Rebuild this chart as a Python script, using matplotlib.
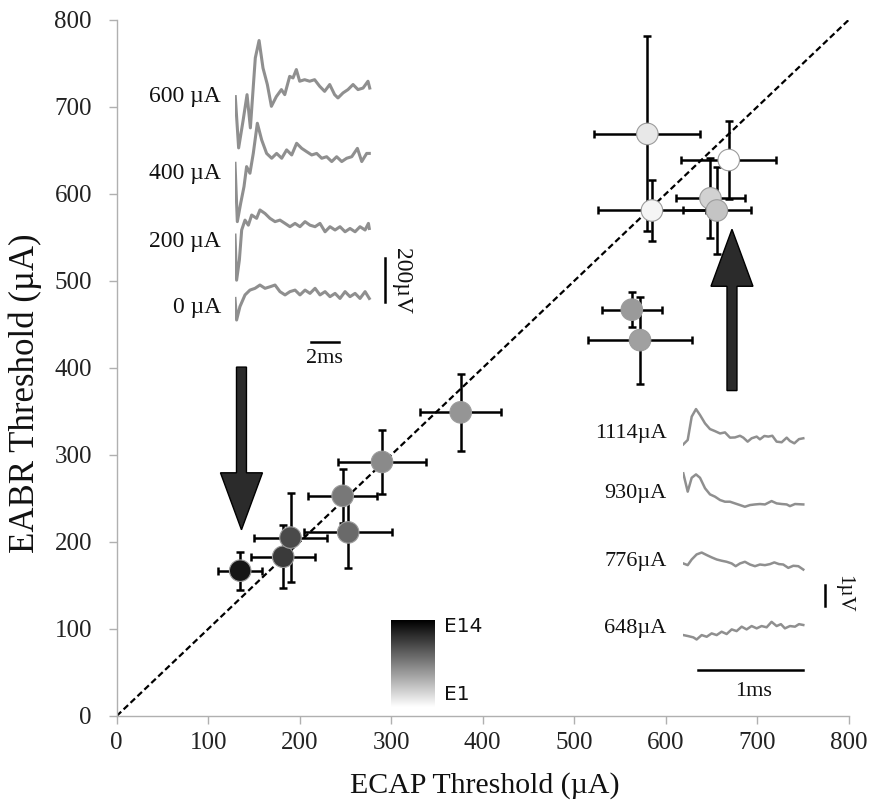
import matplotlib
matplotlib.use("Agg")
import matplotlib.pyplot as plt
from matplotlib.patches import FancyArrow
import numpy as np

# ---------------- data ----------------
ecap = [135, 182, 190, 253, 247, 290, 376, 580, 585, 669, 649, 656, 563, 572]
eabr = [167, 183, 205, 211, 253, 292, 349, 669, 581, 639, 595, 581, 467, 432]
ecap_err = [24, 35, 40, 48, 38, 48, 44, 58, 59, 52, 38, 37, 33, 57]
eabr_err = [22, 36, 51, 41, 31, 37, 44, 112, 35, 45, 46, 50, 20, 50]
point_colors = ['#151515', '#3a3a3a', '#4a4a4a', '#6a6a6a', '#787878', '#8a8a8a',
                '#959595', '#e8e8e8', '#f5f5f5', '#ffffff', '#d2d2d2', '#c4c4c4',
                '#9a9a9a', '#a0a0a0']
axis_range = [0, 800]
ticks = [0, 100, 200, 300, 400, 500, 600, 700, 800]

# EABR waveforms (ms, uV)
eabr_labels = ['600 µA', '400 µA', '200 µA', '0 µA']
eabr_t = [
    [0.02, 0.25, 0.55, 0.83, 1.06, 1.40, 1.66, 1.93, 2.23, 2.51, 2.85, 3.20, 3.43, 3.77, 4.00, 4.23,
     4.46, 4.80, 5.15, 5.49, 5.84, 6.18, 6.53, 6.87, 7.10, 7.45, 7.79, 8.14, 8.48, 8.83, 9.17, 9.29],
    [0.00, 0.16, 0.39, 0.62, 0.80, 1.03, 1.26, 1.54, 1.84, 2.18, 2.53, 2.87, 3.22, 3.56, 3.91, 4.25,
     4.60, 4.94, 5.29, 5.63, 5.98, 6.32, 6.67, 7.01, 7.36, 7.70, 8.05, 8.44, 8.74, 9.08, 9.26],
    [0.00, 0.11, 0.30, 0.46, 0.69, 0.92, 1.15, 1.49, 1.72, 2.07, 2.41, 2.76, 3.10, 3.45, 3.79, 4.14,
     4.48, 4.83, 5.17, 5.52, 5.86, 6.21, 6.55, 6.90, 7.24, 7.59, 7.93, 8.28, 8.62, 8.97, 9.20, 9.26],
    [0.00, 0.11, 0.34, 0.69, 1.03, 1.38, 1.72, 2.07, 2.41, 2.76, 3.10, 3.45, 3.79, 4.14, 4.48, 4.83,
     5.17, 5.52, 5.86, 6.21, 6.55, 6.90, 7.24, 7.59, 7.93, 8.28, 8.62, 8.97, 9.26],
]
eabr_v = [
    [0, -233, -112, 9, -142, 176, 255, 130, 55, -44, 0, 32, 9, 92, 85, 123,
     70, 77, 70, 77, 47, 24, 55, 9, -6, 17, 32, 55, 32, 39, 70, 39],
    [0, -265, -182, -106, -15, -45, 45, 182, 106, 45, 23, 45, 23, 61, 38, 91,
     68, 53, 38, 45, 23, 30, 8, 30, 8, 23, 30, 68, 8, 45, 45],
    [0, -205, -114, 23, 68, 45, 91, 76, 114, 98, 76, 61, 68, 53, 38, 53,
     38, 61, 45, 38, 53, 15, 38, 23, 38, 15, 30, 15, 38, 23, 53, 30],
    [-8, -106, -45, 8, 30, 38, 53, 38, 45, 53, 23, 8, 23, 30, 8, 30,
     15, 38, 8, 23, 0, 15, -8, 23, 0, 15, -8, 23, -8],
]

# ECAP waveforms (ms, uV)
ecap_labels = ['1114µA', '930µA', '776µA', '648µA']
ecap_t = [
    [0.000, 0.042, 0.080, 0.121, 0.159, 0.207, 0.254, 0.302, 0.350, 0.397, 0.445, 0.492, 0.540, 0.572,
     0.613, 0.651, 0.699, 0.730, 0.772, 0.810, 0.848, 0.889, 0.937, 0.985, 1.016, 1.058, 1.102, 1.143],
    [0.000, 0.042, 0.080, 0.121, 0.159, 0.207, 0.254, 0.302, 0.350, 0.397, 0.445, 0.492, 0.540, 0.587,
     0.635, 0.683, 0.730, 0.778, 0.841, 0.889, 0.937, 0.985, 1.016, 1.064, 1.143],
    [0.000, 0.042, 0.080, 0.127, 0.175, 0.223, 0.270, 0.318, 0.365, 0.413, 0.461, 0.499, 0.540, 0.587,
     0.635, 0.683, 0.730, 0.778, 0.826, 0.867, 0.911, 0.952, 1.000, 1.048, 1.096, 1.143],
    [0.000, 0.048, 0.096, 0.127, 0.175, 0.223, 0.270, 0.318, 0.365, 0.413, 0.461, 0.508, 0.556, 0.603,
     0.651, 0.699, 0.746, 0.794, 0.841, 0.889, 0.930, 0.968, 1.016, 1.064, 1.102, 1.143],
]
ecap_v = [
    [0, 0.21, 1.32, 1.68, 1.40, 1.00, 0.73, 0.63, 0.52, 0.57, 0.32, 0.33, 0.41, 0.32,
     0.13, 0.29, 0.37, 0.24, 0.40, 0.37, 0.41, 0.13, 0.10, 0.32, 0.16, 0.05, 0.25, 0.29],
    [0, -0.87, -0.21, -0.05, -0.21, -0.71, -1.00, -1.11, -1.27, -1.35, -1.35, -1.43, -1.51, -1.59,
     -1.51, -1.48, -1.46, -1.48, -1.32, -1.43, -1.46, -1.48, -1.56, -1.46, -1.48],
    [0, -0.08, 0.19, 0.43, 0.52, 0.40, 0.29, 0.19, 0.13, 0.08, 0.00, -0.13, 0.00, 0.08,
     -0.05, -0.13, -0.05, -0.08, -0.03, 0.05, -0.03, -0.05, -0.21, -0.11, -0.13, -0.29],
    [0, -0.05, -0.11, -0.21, 0.00, -0.08, 0.08, 0.00, 0.16, 0.05, 0.27, 0.19, 0.40, 0.27,
     0.43, 0.32, 0.43, 0.37, 0.63, 0.43, 0.52, 0.32, 0.43, 0.40, 0.52, 0.48],
]

# ---------------- layout / style ----------------
SERIF = 'Liberation Serif'
TRACE_COLOR = '#8f8f8f'
SPINE = '#b0b0b0'

fig = plt.figure(figsize=(8.72, 8.05), dpi=100)
ax = fig.add_axes([0.1338, 0.1106, 0.8394, 0.8646])

ax.plot(axis_range, axis_range, color='black', lw=1.6, dashes=(2.8, 1.5), zorder=1)
ax.errorbar(ecap, eabr, xerr=ecap_err, yerr=eabr_err, fmt='none', ecolor='black',
            elinewidth=1.8, capsize=3, capthick=1.8, zorder=2)
ax.scatter(ecap, eabr, s=15.5 ** 2, c=point_colors, edgecolors='#9c9c9c',
           linewidths=0.8, zorder=3)

# arrows (data units)
arrow_kw = dict(width=10.9, head_width=45.9, head_length=65.5, length_includes_head=True,
                facecolor='#2b2b2b', edgecolor='black', lw=1.0, zorder=4)
ax.add_patch(FancyArrow(136.4, 401, 0, -187, **arrow_kw))
ax.add_patch(FancyArrow(672.5, 374, 0, 185.4, **arrow_kw))

ax.set_xlim(axis_range)
ax.set_ylim(axis_range)
ax.set_xticks(ticks)
ax.set_yticks(ticks)
for s in ['top', 'right']:
    ax.spines[s].set_visible(False)
for s in ['left', 'bottom']:
    ax.spines[s].set_color(SPINE)
    ax.spines[s].set_linewidth(1.0)
ax.tick_params(axis='both', direction='out', length=5.8, width=1.0, color=SPINE,
               labelsize=18, labelcolor='#222222')
ax.tick_params(axis='y', pad=12)
ax.tick_params(axis='x', pad=6)
for lab in ax.get_xticklabels() + ax.get_yticklabels():
    lab.set_fontfamily(SERIF)

ax.set_xlabel('ECAP Threshold (µA)', fontsize=21.5, family=SERIF, color='#111111')
ax.xaxis.set_label_coords(0.503, -0.080)
ax.set_ylabel('EABR Threshold (µA)', fontsize=25, family=SERIF, color='#111111', va='center')
ax.yaxis.set_label_coords(-0.125, 0.463)

# ---------------- EABR inset (top-left) ----------------
ins1 = fig.add_axes([0.2695, 0.5404, 0.2122, 0.4224])
ins1.set_xlim(0, 12.76)
ins1.set_ylim(-333, 1212)
ins1.axis('off')
eabr_offsets = [909, 606, 280, 0]
eabr_label_y = [909, 562, 250, -51]
for t, v, off, lab, ly in zip(eabr_t, eabr_v, eabr_offsets, eabr_labels, eabr_label_y):
    ins1.plot(t, np.array(v) + off, color=TRACE_COLOR, lw=2.2, solid_joinstyle='round')
    ins1.text(-0.97, ly, lab, ha='right', va='center', fontsize=17, family=SERIF,
              color='#111111', clip_on=False)
ins1.plot([5.22, 7.19], [-207, -207], color='black', lw=1.8)
ins1.text(6.14, -279, '2ms', ha='center', va='center', fontsize=16, family=SERIF, color='#111111')
ins1.plot([10.34, 10.34], [-23, 177], color='black', lw=1.8)
ins1.text(11.5, 70, '200µV', ha='center', va='center', rotation=270, fontsize=17,
          family=SERIF, color='#111111')

# ---------------- ECAP inset (bottom-right) ----------------
ins2 = fig.add_axes([0.7836, 0.1242, 0.2026, 0.3851])
ins2.set_xlim(0, 1.683)
ins2.set_ylim(-3.33, 11.43)
ins2.axis('off')
ecap_offsets = [9.08, 7.70, 3.41, 0.0]
ecap_label_y = [9.6, 6.76, 3.49, 0.32]
for t, v, off, lab, ly in zip(ecap_t, ecap_v, ecap_offsets, ecap_labels, ecap_label_y):
    ins2.plot(t, np.array(v) + off, color=TRACE_COLOR, lw=1.8, solid_joinstyle='round')
    ins2.text(-0.158, ly, lab, ha='right', va='center', fontsize=16, family=SERIF,
              color='#111111', clip_on=False)
ins2.plot([0.143, 1.143], [-1.67, -1.67], color='black', lw=1.8)
ins2.text(0.667, -2.7, '1ms', ha='center', va='center', fontsize=16, family=SERIF, color='#111111')
ins2.plot([1.35, 1.35], [1.38, 2.38], color='black', lw=1.8)
ins2.text(1.53, 1.95, '1µV', ha='center', va='center', rotation=270, fontsize=15,
          family=SERIF, color='#111111')

# ---------------- electrode gradient bar ----------------
cb = fig.add_axes([0.448, 0.1221, 0.0497, 0.1077])
gradient = np.linspace(0, 1, 256).reshape(-1, 1)
cb.imshow(gradient, aspect='auto', cmap='gray', extent=[0, 1, 0, 1], origin='upper')
cb.axis('off')
fig.text(444 / 872, 1 - 627 / 805, 'E14', ha='left', va='center', fontsize=14.5,
         family='DejaVu Sans', color='#111111')
fig.text(444 / 872, 1 - 694 / 805, 'E1', ha='left', va='center', fontsize=14.5,
         family='DejaVu Sans', color='#111111')

fig.savefig('out.png', dpi=100)
